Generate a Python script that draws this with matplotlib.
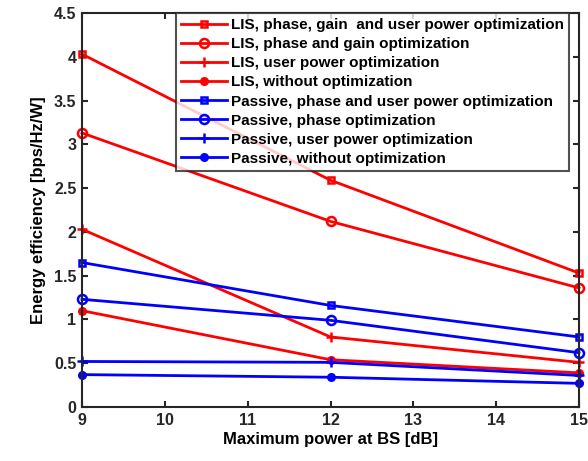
import numpy as np
import matplotlib
matplotlib.use("Agg")
import matplotlib.pyplot as plt

plt.rcParams["font.family"] = ["Liberation Sans", "DejaVu Sans"]
plt.rcParams["font.weight"] = "bold"

# 数据
power_db = [9, 12, 15]

lis_full = [4.03, 2.59, 1.53]
lis_phase_gain = [3.13, 2.12, 1.36]
lis_user_power = [2.03, 0.80, 0.51]
lis_none = [1.10, 0.54, 0.39]
pas_phase_user = [1.65, 1.16, 0.80]
pas_phase = [1.23, 0.99, 0.62]
pas_user_power = [0.52, 0.51, 0.36]
pas_none = [0.37, 0.34, 0.27]

labels = [
    "LIS, phase, gain  and user power optimization",
    "LIS, phase and gain optimization",
    "LIS, user power optimization",
    "LIS, without optimization",
    "Passive, phase and user power optimization",
    "Passive, phase optimization",
    "Passive, user power optimization",
    "Passive, without optimization",
]

series = [lis_full, lis_phase_gain, lis_user_power, lis_none,
          pas_phase_user, pas_phase, pas_user_power, pas_none]
colors = ["red"] * 4 + ["blue"] * 4
markers = ["s", "o", "+", "o"] * 2
fills = ["none", "none", "none", "full"] * 2

fig = plt.figure(figsize=(5.88, 4.61), dpi=100)
ax = fig.add_axes([82 / 588, 1 - 407 / 461, 497 / 588, 394 / 461])

for y, c, m, f, lab in zip(series, colors, markers, fills, labels):
    if f == "full":
        ax.plot(power_db, y, color=c, marker=m, markersize=5.5, lw=2,
                markerfacecolor=c, label=lab, clip_on=False)
    else:
        ms = {"s": 5, "o": 6.5, "+": 7}[m]
        ax.plot(power_db, y, color=c, marker=m, markersize=ms,
                lw=2, markerfacecolor="none", markeredgewidth=1.8, label=lab,
                clip_on=False)

ax.set_xlim(9, 15)
ax.set_ylim(0, 4.5)
ax.set_xticks(np.arange(9, 16, 1))
ax.set_yticks(np.arange(0, 4.6, 0.5))
ax.set_yticklabels(["0", "0.5", "1", "1.5", "2", "2.5", "3", "3.5", "4", "4.5"])
ax.tick_params(direction="in", top=True, right=True, labelsize=11.5, width=1.5,
               length=4, colors="#262626", pad=4)
for sp in ax.spines.values():
    sp.set_linewidth(1.5)
    sp.set_color("#262626")

ax.set_xlabel("Maximum power at BS [dB]", fontsize=12, fontweight="bold",
              labelpad=3)
ax.set_ylabel("Energy efficiency [bps/Hz/W]", fontsize=12, fontweight="bold",
              labelpad=6)

leg = ax.legend(loc="upper right", fontsize=11, frameon=True, fancybox=False,
                borderpad=0.35, labelspacing=0.33, handlelength=3.0,
                handletextpad=0.25, borderaxespad=0.0,
                bbox_to_anchor=(0.98, 1.0))
leg.get_frame().set_edgecolor("#262626")
leg.get_frame().set_linewidth(1.5)
for t in leg.get_texts():
    t.set_fontweight("bold")

fig.savefig("out.png", dpi=100)
